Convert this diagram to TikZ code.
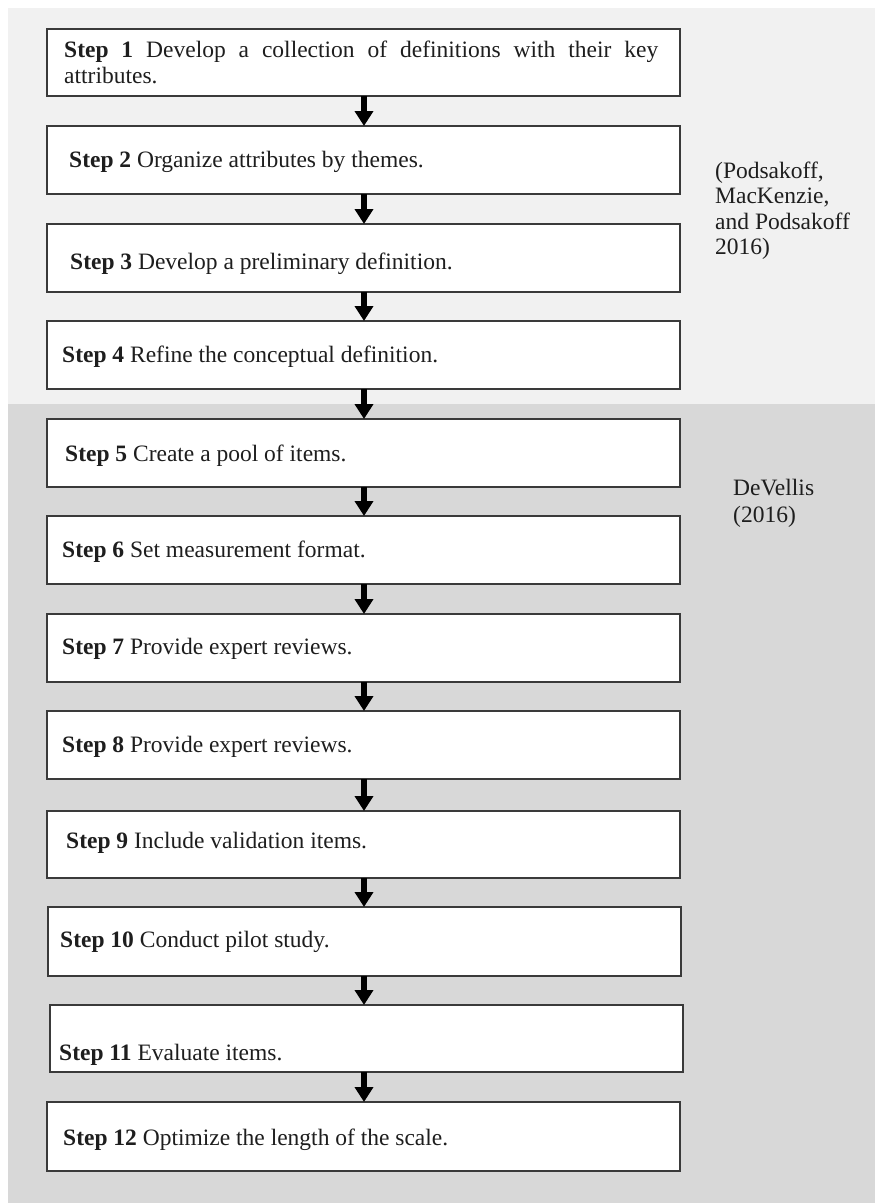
\documentclass[tikz,border=0pt]{standalone}
\usepackage{fontspec}
\setmainfont{Liberation Serif}
\usetikzlibrary{arrows.meta}

\definecolor{paneltop}{HTML}{F1F1F1}
\definecolor{panelbottom}{HTML}{D8D8D8}
\definecolor{boxline}{HTML}{3A3A3A}
\definecolor{ink}{HTML}{1E1E1E}

\tikzset{
  stepbox/.style={rectangle, draw=boxline, line width=1.6pt, fill=white,
    inner sep=0pt, outer sep=0pt, minimum width=633pt},
  steptext/.style={anchor=base west, inner sep=0pt, text=ink,
    font=\fontsize{23.5}{26}\selectfont},
  sidenote/.style={anchor=base west, inner sep=0pt, text=ink,
    font=\fontsize{23.5}{25.5}\selectfont},
  flow/.style={draw=black, line width=5.5pt,
    -{Triangle[width=18pt,length=15pt]}}
}

\begin{document}
\begin{tikzpicture}[x=1pt, y=-1pt]
  % page and the two shaded panels
  \useasboundingbox (0,0) rectangle (875,1203);
  \fill[white] (0,0) rectangle (875,1203);
  \fill[paneltop] (8,8) rectangle (875,404);
  \fill[panelbottom] (8,404) rectangle (875,1203);

  % step boxes
  \node[stepbox, minimum height=67pt] (s1)  at (363.5,62.5)  {};
  \node[stepbox, minimum height=68pt] (s2)  at (363.5,160)   {};
  \node[stepbox, minimum height=68pt] (s3)  at (363.5,258)   {};
  \node[stepbox, minimum height=68pt] (s4)  at (363.5,355)   {};
  \node[stepbox, minimum height=68pt] (s5)  at (363.5,453)   {};
  \node[stepbox, minimum height=68pt] (s6)  at (363.5,550)   {};
  \node[stepbox, minimum height=68pt] (s7)  at (363.5,648)   {};
  \node[stepbox, minimum height=68pt] (s8)  at (363.5,745)   {};
  \node[stepbox, minimum height=67pt] (s9)  at (363.5,844.5) {};
  \node[stepbox, minimum height=69pt] (s10) at (364.5,941.5) {};
  \node[stepbox, minimum height=67pt] (s11) at (366.5,1038.5) {};
  \node[stepbox, minimum height=69pt] (s12) at (363.5,1136.5) {};

  % step labels
  \node[steptext] (t1a) at (64,57.5) {\makebox[594pt][s]{\textbf{Step 1} Develop a collection of definitions with their key}};
  \node[steptext] (t1b) at (64,83.5) {attributes.};
  \node[steptext] (t2)  at (69,167)   {\textbf{Step 2} Organize attributes by themes.};
  \node[steptext] (t3)  at (70,269)   {\textbf{Step 3} Develop a preliminary definition.};
  \node[steptext] (t4)  at (62,362)   {\textbf{Step 4} Refine the conceptual definition.};
  \node[steptext] (t5)  at (65,461)   {\textbf{Step 5} Create a pool of items.};
  \node[steptext] (t6)  at (62,557)   {\textbf{Step 6} Set measurement format.};
  \node[steptext] (t7)  at (62,654)   {\textbf{Step 7} Provide expert reviews.};
  \node[steptext] (t8)  at (62,752)   {\textbf{Step 8} Provide expert reviews.};
  \node[steptext] (t9)  at (66,848)   {\textbf{Step 9} Include validation items.};
  \node[steptext] (t10) at (60,947)   {\textbf{Step 10} Conduct pilot study.};
  \node[steptext] (t11) at (59,1060)  {\textbf{Step 11} Evaluate items.};
  \node[steptext] (t12) at (63,1145)  {\textbf{Step 12} Optimize the length of the scale.};

  % arrows between consecutive steps
  \coordinate (ax) at (364,0);
  \foreach \a/\b in {1/2,2/3,3/4,4/5,5/6,6/7,7/8,8/9,9/10,10/11,11/12}
    \draw[flow] (s\a.south -| ax) -- (s\b.north -| ax);

  % sources
  \node[sidenote] (src1a) at (715,178)   {(Podsakoff,};
  \node[sidenote] (src1b) at (715,203.5) {MacKenzie,};
  \node[sidenote] (src1c) at (715,229)   {and Podsakoff};
  \node[sidenote] (src1d) at (715,254.5) {2016)};
  \node[sidenote] (src2a) at (733,495)   {DeVellis};
  \node[sidenote] (src2b) at (733,522)   {(2016)};
\end{tikzpicture}
\end{document}
